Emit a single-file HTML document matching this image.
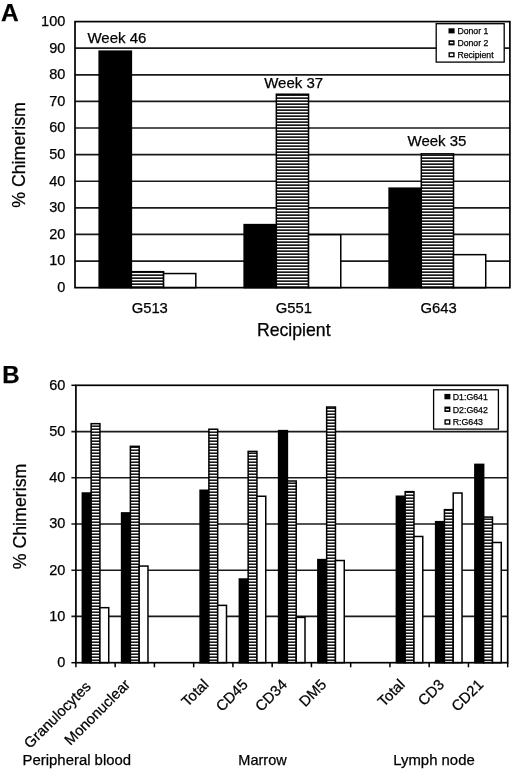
<!DOCTYPE html>
<html><head><meta charset="utf-8"><title>Chimerism</title>
<style>html,body{margin:0;padding:0;background:#fff;}svg{display:block;will-change:transform;}text{font-family:"Liberation Sans", sans-serif;fill:#000;stroke:#000;stroke-width:0.25px;}</style></head><body>
<svg width="520" height="779" viewBox="0 0 520 779">
<defs><pattern id="hs" patternUnits="userSpaceOnUse" x="0" y="0" width="8" height="3"><rect x="0" y="0" width="8" height="3" fill="#1a1a1a"/><rect x="0" y="0" width="8" height="1.3" fill="#fff"/></pattern><pattern id="hsb" patternUnits="userSpaceOnUse" x="0" y="1" width="8" height="3"><rect x="0" y="0" width="8" height="3" fill="#1a1a1a"/><rect x="0" y="0" width="8" height="1.4" fill="#fff"/></pattern></defs>
<rect x="0" y="0" width="520" height="779" fill="#fff"/>
<text x="1" y="21.2" font-size="24.5" font-weight="bold">A</text>
<line x1="75" y1="261.04" x2="509.9" y2="261.04" stroke="#1a1a1a" stroke-width="1.7"/>
<line x1="75" y1="234.44" x2="509.9" y2="234.44" stroke="#1a1a1a" stroke-width="1.7"/>
<line x1="75" y1="207.83" x2="509.9" y2="207.83" stroke="#1a1a1a" stroke-width="1.7"/>
<line x1="75" y1="181.23" x2="509.9" y2="181.23" stroke="#1a1a1a" stroke-width="1.7"/>
<line x1="75" y1="154.62" x2="509.9" y2="154.62" stroke="#1a1a1a" stroke-width="1.7"/>
<line x1="75" y1="128.02" x2="509.9" y2="128.02" stroke="#1a1a1a" stroke-width="1.7"/>
<line x1="75" y1="101.42" x2="509.9" y2="101.42" stroke="#1a1a1a" stroke-width="1.7"/>
<line x1="75" y1="74.81" x2="509.9" y2="74.81" stroke="#1a1a1a" stroke-width="1.7"/>
<line x1="75" y1="48.21" x2="509.9" y2="48.21" stroke="#1a1a1a" stroke-width="1.7"/>
<text x="65.3" y="292.05" font-size="14.5" text-anchor="end">0</text>
<text x="65.3" y="265.44" font-size="14.5" text-anchor="end">10</text>
<text x="65.3" y="238.84" font-size="14.5" text-anchor="end">20</text>
<text x="65.3" y="212.23" font-size="14.5" text-anchor="end">30</text>
<text x="65.3" y="185.63" font-size="14.5" text-anchor="end">40</text>
<text x="65.3" y="159.03" font-size="14.5" text-anchor="end">50</text>
<text x="65.3" y="132.42" font-size="14.5" text-anchor="end">60</text>
<text x="65.3" y="105.82" font-size="14.5" text-anchor="end">70</text>
<text x="65.3" y="79.21" font-size="14.5" text-anchor="end">80</text>
<text x="65.3" y="52.61" font-size="14.5" text-anchor="end">90</text>
<text x="65.3" y="26" font-size="14.5" text-anchor="end">100</text>
<rect x="99.16" y="51.13" width="32.21" height="236.52" fill="#000" stroke="#000" stroke-width="1.5"/>
<rect x="131.38" y="271.69" width="32.21" height="15.96" fill="url(#hs)" stroke="#000" stroke-width="1.5"/>
<rect x="163.59" y="273.55" width="32.21" height="14.1" fill="#fff" stroke="#000" stroke-width="1.5"/>
<rect x="244.13" y="224.6" width="32.21" height="63.05" fill="#000" stroke="#000" stroke-width="1.5"/>
<rect x="276.34" y="94.23" width="32.21" height="193.42" fill="url(#hs)" stroke="#000" stroke-width="1.5"/>
<rect x="308.56" y="234.71" width="32.21" height="52.94" fill="#fff" stroke="#000" stroke-width="1.5"/>
<rect x="389.09" y="188.15" width="32.21" height="99.5" fill="#000" stroke="#000" stroke-width="1.5"/>
<rect x="421.31" y="153.83" width="32.21" height="133.82" fill="url(#hs)" stroke="#000" stroke-width="1.5"/>
<rect x="453.52" y="254.66" width="32.21" height="32.99" fill="#fff" stroke="#000" stroke-width="1.5"/>
<rect x="75" y="21.6" width="434.9" height="266.05" fill="none" stroke="#000" stroke-width="1.7"/>
<text x="116.9" y="42.5" font-size="15" text-anchor="middle">Week 46</text>
<text x="293.7" y="87.7" font-size="15" text-anchor="middle">Week 37</text>
<text x="437.0" y="146.1" font-size="15" text-anchor="middle">Week 35</text>
<text x="149.75" y="312.9" font-size="14.8" text-anchor="middle">G513</text>
<text x="293.8" y="312.9" font-size="14.8" text-anchor="middle">G551</text>
<text x="438.7" y="312.9" font-size="14.8" text-anchor="middle">G643</text>
<text x="293.75" y="335.7" font-size="17.7" text-anchor="middle">Recipient</text>
<text transform="translate(25.3,155) rotate(-90)" font-size="17.8" text-anchor="middle">% Chimerism</text>
<rect x="436.2" y="23.7" width="68" height="38.4" fill="#fff" stroke="#000" stroke-width="1.3"/>
<rect x="449.2" y="29" width="4.7" height="3.7" fill="#000" stroke="#000" stroke-width="1.4"/>
<text x="457.4" y="34.4" font-size="8.7">Donor 1</text>
<rect x="449.2" y="40.95" width="4.7" height="3.7" fill="url(#hs)" stroke="#000" stroke-width="1.4"/>
<text x="457.4" y="46.35" font-size="8.7">Donor 2</text>
<rect x="449.2" y="52.9" width="4.7" height="3.7" fill="#fff" stroke="#000" stroke-width="1.4"/>
<text x="457.4" y="58.3" font-size="8.7">Recipient</text>
<text x="2.3" y="383.4" font-size="24" font-weight="bold">B</text>
<line x1="71.4" y1="616.47" x2="507.7" y2="616.47" stroke="#1a1a1a" stroke-width="1.7"/>
<line x1="71.4" y1="570.23" x2="507.7" y2="570.23" stroke="#1a1a1a" stroke-width="1.7"/>
<line x1="71.4" y1="524" x2="507.7" y2="524" stroke="#1a1a1a" stroke-width="1.7"/>
<line x1="71.4" y1="477.77" x2="507.7" y2="477.77" stroke="#1a1a1a" stroke-width="1.7"/>
<line x1="71.4" y1="431.53" x2="507.7" y2="431.53" stroke="#1a1a1a" stroke-width="1.7"/>
<line x1="71.4" y1="662.7" x2="75.9" y2="662.7" stroke="#000" stroke-width="1.5"/>
<line x1="71.4" y1="385.3" x2="75.9" y2="385.3" stroke="#000" stroke-width="1.5"/>
<text x="65.3" y="667.1" font-size="14.5" text-anchor="end">0</text>
<text x="65.3" y="620.87" font-size="14.5" text-anchor="end">10</text>
<text x="65.3" y="574.63" font-size="14.5" text-anchor="end">20</text>
<text x="65.3" y="528.4" font-size="14.5" text-anchor="end">30</text>
<text x="65.3" y="482.17" font-size="14.5" text-anchor="end">40</text>
<text x="65.3" y="435.93" font-size="14.5" text-anchor="end">50</text>
<text x="65.3" y="389.7" font-size="14.5" text-anchor="end">60</text>
<rect x="82.33" y="493.02" width="8.8" height="169.68" fill="#000" stroke="#000" stroke-width="1.5"/>
<rect x="91.13" y="423.67" width="8.8" height="239.03" fill="url(#hsb)" stroke="#000" stroke-width="1.5"/>
<rect x="99.93" y="607.68" width="8.8" height="55.02" fill="#fff" stroke="#000" stroke-width="1.5"/>
<rect x="121.58" y="512.9" width="8.8" height="149.8" fill="#000" stroke="#000" stroke-width="1.5"/>
<rect x="130.38" y="446.33" width="8.8" height="216.37" fill="url(#hsb)" stroke="#000" stroke-width="1.5"/>
<rect x="139.18" y="566.07" width="8.8" height="96.63" fill="#fff" stroke="#000" stroke-width="1.5"/>
<rect x="200.09" y="490.25" width="8.8" height="172.45" fill="#000" stroke="#000" stroke-width="1.5"/>
<rect x="208.89" y="429.22" width="8.8" height="233.48" fill="url(#hsb)" stroke="#000" stroke-width="1.5"/>
<rect x="217.69" y="605.37" width="8.8" height="57.33" fill="#fff" stroke="#000" stroke-width="1.5"/>
<rect x="239.35" y="579.02" width="8.8" height="83.68" fill="#000" stroke="#000" stroke-width="1.5"/>
<rect x="248.15" y="451.41" width="8.8" height="211.29" fill="url(#hsb)" stroke="#000" stroke-width="1.5"/>
<rect x="256.95" y="496.26" width="8.8" height="166.44" fill="#fff" stroke="#000" stroke-width="1.5"/>
<rect x="278.6" y="430.61" width="8.8" height="232.09" fill="#000" stroke="#000" stroke-width="1.5"/>
<rect x="287.4" y="481" width="8.8" height="181.7" fill="url(#hsb)" stroke="#000" stroke-width="1.5"/>
<rect x="296.2" y="617.39" width="8.8" height="45.31" fill="#fff" stroke="#000" stroke-width="1.5"/>
<rect x="317.85" y="559.6" width="8.8" height="103.1" fill="#000" stroke="#000" stroke-width="1.5"/>
<rect x="326.65" y="407.03" width="8.8" height="255.67" fill="url(#hsb)" stroke="#000" stroke-width="1.5"/>
<rect x="335.45" y="560.52" width="8.8" height="102.18" fill="#fff" stroke="#000" stroke-width="1.5"/>
<rect x="396.36" y="496.26" width="8.8" height="166.44" fill="#000" stroke="#000" stroke-width="1.5"/>
<rect x="405.16" y="491.64" width="8.8" height="171.06" fill="url(#hsb)" stroke="#000" stroke-width="1.5"/>
<rect x="413.96" y="536.48" width="8.8" height="126.22" fill="#fff" stroke="#000" stroke-width="1.5"/>
<rect x="435.62" y="521.69" width="8.8" height="141.01" fill="#000" stroke="#000" stroke-width="1.5"/>
<rect x="444.42" y="509.67" width="8.8" height="153.03" fill="url(#hsb)" stroke="#000" stroke-width="1.5"/>
<rect x="453.22" y="493.02" width="8.8" height="169.68" fill="#fff" stroke="#000" stroke-width="1.5"/>
<rect x="474.87" y="464.36" width="8.8" height="198.34" fill="#000" stroke="#000" stroke-width="1.5"/>
<rect x="483.67" y="517.07" width="8.8" height="145.63" fill="url(#hsb)" stroke="#000" stroke-width="1.5"/>
<rect x="492.47" y="542.49" width="8.8" height="120.21" fill="#fff" stroke="#000" stroke-width="1.5"/>
<rect x="75.9" y="385.3" width="431.8" height="277.4" fill="none" stroke="#000" stroke-width="1.7"/>
<line x1="75.9" y1="662.7" x2="75.9" y2="667.3" stroke="#000" stroke-width="1.5"/>
<line x1="115.15" y1="662.7" x2="115.15" y2="667.3" stroke="#000" stroke-width="1.5"/>
<line x1="154.41" y1="662.7" x2="154.41" y2="667.3" stroke="#000" stroke-width="1.5"/>
<line x1="193.66" y1="662.7" x2="193.66" y2="667.3" stroke="#000" stroke-width="1.5"/>
<line x1="232.92" y1="662.7" x2="232.92" y2="667.3" stroke="#000" stroke-width="1.5"/>
<line x1="272.17" y1="662.7" x2="272.17" y2="667.3" stroke="#000" stroke-width="1.5"/>
<line x1="311.43" y1="662.7" x2="311.43" y2="667.3" stroke="#000" stroke-width="1.5"/>
<line x1="350.68" y1="662.7" x2="350.68" y2="667.3" stroke="#000" stroke-width="1.5"/>
<line x1="389.94" y1="662.7" x2="389.94" y2="667.3" stroke="#000" stroke-width="1.5"/>
<line x1="429.19" y1="662.7" x2="429.19" y2="667.3" stroke="#000" stroke-width="1.5"/>
<line x1="468.45" y1="662.7" x2="468.45" y2="667.3" stroke="#000" stroke-width="1.5"/>
<line x1="507.7" y1="662.7" x2="507.7" y2="667.3" stroke="#000" stroke-width="1.5"/>
<text transform="translate(91.73,687.5) rotate(-45)" font-size="14.8" text-anchor="end">Granulocytes</text>
<text transform="translate(130.98,685.5) rotate(-45)" font-size="14.8" text-anchor="end">Mononuclear</text>
<text transform="translate(209.49,685.5) rotate(-45)" font-size="14.8" text-anchor="end">Total</text>
<text transform="translate(248.75,685.5) rotate(-45)" font-size="14.8" text-anchor="end">CD45</text>
<text transform="translate(288,685.5) rotate(-45)" font-size="14.8" text-anchor="end">CD34</text>
<text transform="translate(327.25,685.5) rotate(-45)" font-size="14.8" text-anchor="end">DM5</text>
<text transform="translate(405.76,685.5) rotate(-45)" font-size="14.8" text-anchor="end">Total</text>
<text transform="translate(445.02,685.5) rotate(-45)" font-size="14.8" text-anchor="end">CD3</text>
<text transform="translate(484.27,685.5) rotate(-45)" font-size="14.8" text-anchor="end">CD21</text>
<text x="22.6" y="765" font-size="14.9">Peripheral blood</text>
<text x="262.5" y="764.6" font-size="14.5" text-anchor="middle">Marrow</text>
<text x="434" y="764.5" font-size="14.9" text-anchor="middle">Lymph node</text>
<text transform="translate(26.2,516.5) rotate(-90)" font-size="17.8" text-anchor="middle">% Chimerism</text>
<rect x="433.6" y="389.8" width="64.8" height="39.3" fill="#fff" stroke="#000" stroke-width="1.3"/>
<rect x="445.1" y="394.6" width="4.6" height="4.0" fill="#000" stroke="#000" stroke-width="1.4"/>
<text x="452.7" y="400" font-size="8.8">D1:G641</text>
<rect x="445.1" y="407.3" width="4.6" height="4.0" fill="url(#hsb)" stroke="#000" stroke-width="1.4"/>
<text x="452.7" y="412.7" font-size="8.8">D2:G642</text>
<rect x="445.1" y="420" width="4.6" height="4.0" fill="#fff" stroke="#000" stroke-width="1.4"/>
<text x="452.7" y="425.4" font-size="8.8">R:G643</text>
</svg></body></html>
